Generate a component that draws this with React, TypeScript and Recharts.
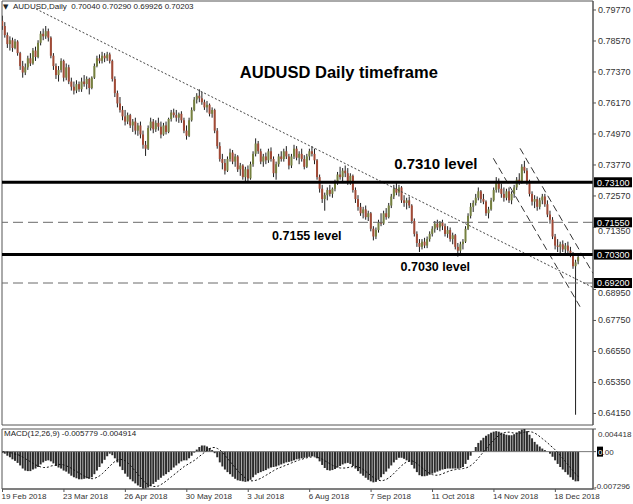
import React from 'react'
import {
  ComposedChart, Bar, Line, XAxis, YAxis,
  ReferenceLine, ReferenceArea, ReferenceDot,
} from 'recharts'

// daily candles as [open, high, low, close], in pips (price x 10000)
const febCandles = [
  [7935, 7955, 7900, 7915], [7915, 7930, 7870, 7880], [7880, 7890, 7830, 7845], [7845, 7875, 7820, 7860],
  [7860, 7870, 7815, 7830], [7830, 7865, 7825, 7855], [7855, 7860, 7800, 7810], [7810, 7815, 7745, 7760],
]
const marCandles = [
  [7760, 7780, 7715, 7735], [7735, 7770, 7725, 7755], [7755, 7800, 7745, 7790], [7790, 7810, 7760, 7770],
  [7770, 7830, 7765, 7820], [7820, 7835, 7780, 7795], [7795, 7860, 7790, 7850], [7850, 7895, 7840, 7885],
  [7885, 7905, 7860, 7875], [7875, 7915, 7865, 7895], [7895, 7905, 7855, 7870], [7870, 7875, 7790, 7800],
  [7800, 7810, 7745, 7760], [7760, 7770, 7710, 7725], [7725, 7760, 7700, 7745], [7745, 7790, 7735, 7780],
  [7780, 7785, 7700, 7715], [7715, 7770, 7705, 7755], [7755, 7765, 7690, 7700], [7700, 7715, 7665, 7680],
  [7680, 7700, 7650, 7665], [7665, 7705, 7655, 7690],
]
const aprCandles = [
  [7690, 7700, 7660, 7670], [7670, 7715, 7660, 7700], [7700, 7725, 7680, 7690], [7690, 7720, 7670, 7710],
  [7710, 7715, 7650, 7675], [7675, 7720, 7670, 7715], [7715, 7770, 7710, 7760], [7760, 7800, 7755, 7790],
  [7790, 7805, 7770, 7780], [7780, 7815, 7770, 7800], [7800, 7810, 7775, 7790], [7790, 7815, 7780, 7805],
  [7805, 7812, 7770, 7780], [7780, 7785, 7700, 7710], [7710, 7720, 7640, 7655], [7655, 7665, 7600, 7615],
  [7615, 7640, 7580, 7590], [7590, 7605, 7550, 7565], [7565, 7590, 7530, 7545], [7545, 7580, 7535, 7570],
  [7570, 7575, 7520, 7530],
]
const mayCandles = [
  [7530, 7555, 7505, 7545], [7545, 7560, 7495, 7510], [7510, 7540, 7490, 7530], [7530, 7545, 7480, 7495],
  [7495, 7510, 7440, 7455], [7455, 7470, 7412, 7440], [7440, 7530, 7435, 7520], [7520, 7560, 7510, 7545],
  [7545, 7555, 7500, 7515], [7515, 7550, 7505, 7540], [7540, 7560, 7510, 7525], [7525, 7545, 7480, 7495],
  [7495, 7540, 7490, 7530], [7530, 7545, 7495, 7505], [7505, 7560, 7500, 7555], [7555, 7590, 7545, 7580],
  [7580, 7595, 7560, 7570], [7570, 7590, 7545, 7560], [7560, 7580, 7540, 7575], [7575, 7585, 7540, 7550],
  [7550, 7560, 7500, 7510], [7510, 7530, 7475, 7490], [7490, 7560, 7485, 7550],
]
const junCandles = [
  [7550, 7600, 7545, 7590], [7590, 7640, 7585, 7630], [7630, 7655, 7615, 7645], [7645, 7670, 7620, 7635],
  [7635, 7660, 7610, 7620], [7620, 7630, 7590, 7600], [7600, 7625, 7580, 7610], [7610, 7615, 7565, 7575],
  [7575, 7600, 7560, 7590], [7590, 7595, 7500, 7510], [7510, 7520, 7440, 7450], [7450, 7465, 7390, 7400],
  [7400, 7420, 7360, 7385], [7385, 7400, 7340, 7355], [7355, 7410, 7350, 7400], [7400, 7440, 7390, 7425],
  [7425, 7435, 7380, 7390], [7390, 7420, 7370, 7410], [7410, 7415, 7350, 7360], [7360, 7385, 7335, 7375],
  [7375, 7380, 7320, 7330],
]
const julCandles = [
  [7330, 7370, 7315, 7360], [7360, 7375, 7310, 7325], [7325, 7390, 7320, 7380], [7380, 7430, 7370, 7420],
  [7420, 7480, 7410, 7460], [7460, 7470, 7420, 7430], [7430, 7440, 7380, 7390], [7390, 7420, 7370, 7410],
  [7410, 7425, 7380, 7395], [7395, 7440, 7385, 7430], [7430, 7445, 7390, 7400], [7400, 7410, 7330, 7345],
  [7345, 7390, 7320, 7380], [7380, 7420, 7370, 7410], [7410, 7430, 7390, 7400], [7400, 7440, 7390, 7430],
  [7430, 7450, 7400, 7410], [7410, 7420, 7360, 7375], [7375, 7420, 7365, 7410], [7410, 7455, 7400, 7440],
  [7440, 7450, 7395, 7405], [7405, 7430, 7380, 7420],
]
const augCandles = [
  [7420, 7440, 7390, 7400], [7400, 7415, 7360, 7370], [7370, 7420, 7365, 7410], [7410, 7440, 7395, 7430],
  [7430, 7450, 7410, 7420], [7420, 7440, 7380, 7395], [7395, 7400, 7320, 7330], [7330, 7340, 7270, 7285],
  [7285, 7300, 7230, 7245], [7245, 7270, 7200, 7260], [7260, 7290, 7240, 7280], [7280, 7300, 7255, 7265],
  [7265, 7290, 7250, 7285], [7285, 7320, 7275, 7310], [7310, 7350, 7300, 7340], [7340, 7370, 7320, 7330],
  [7330, 7365, 7310, 7355], [7355, 7375, 7330, 7345], [7345, 7365, 7300, 7310], [7310, 7345, 7300, 7335],
  [7335, 7340, 7270, 7280], [7280, 7290, 7230, 7245], [7245, 7260, 7200, 7215],
]
const sepCandles = [
  [7215, 7230, 7180, 7190], [7190, 7215, 7170, 7205], [7205, 7220, 7165, 7175], [7175, 7200, 7160, 7190],
  [7190, 7195, 7120, 7130], [7130, 7140, 7085, 7100], [7100, 7135, 7090, 7125], [7125, 7165, 7115, 7155],
  [7155, 7190, 7140, 7150], [7150, 7200, 7145, 7190], [7190, 7210, 7165, 7175], [7175, 7230, 7170, 7220],
  [7220, 7265, 7210, 7255], [7255, 7300, 7245, 7285], [7285, 7310, 7260, 7270], [7270, 7300, 7255, 7290],
  [7290, 7295, 7230, 7240], [7240, 7260, 7215, 7230], [7230, 7250, 7205, 7240], [7240, 7255, 7210, 7220],
]
const octCandles = [
  [7220, 7225, 7150, 7160], [7160, 7170, 7100, 7110], [7110, 7120, 7060, 7075], [7075, 7090, 7040, 7060],
  [7060, 7090, 7050, 7080], [7080, 7095, 7055, 7065], [7065, 7100, 7055, 7090], [7090, 7120, 7080, 7110],
  [7110, 7140, 7100, 7130], [7130, 7160, 7115, 7150], [7150, 7165, 7125, 7135], [7135, 7160, 7120, 7155],
  [7155, 7165, 7125, 7140], [7140, 7150, 7100, 7110], [7110, 7140, 7095, 7125], [7125, 7135, 7080, 7090],
  [7090, 7115, 7070, 7105], [7105, 7110, 7050, 7060], [7060, 7075, 7022, 7045], [7045, 7080, 7035, 7070],
  [7070, 7090, 7050, 7080], [7080, 7140, 7075, 7130], [7130, 7190, 7125, 7180],
]
const novCandles = [
  [7180, 7230, 7170, 7215], [7215, 7240, 7195, 7230], [7230, 7265, 7220, 7250], [7250, 7290, 7240, 7275],
  [7275, 7280, 7230, 7245], [7245, 7265, 7225, 7235], [7235, 7240, 7180, 7190], [7190, 7215, 7170, 7205],
  [7205, 7250, 7200, 7240], [7240, 7290, 7235, 7280], [7280, 7330, 7270, 7310], [7310, 7325, 7270, 7285],
  [7285, 7305, 7250, 7265], [7265, 7290, 7235, 7250], [7250, 7285, 7240, 7275], [7275, 7290, 7230, 7240],
  [7240, 7275, 7225, 7265], [7265, 7300, 7250, 7290], [7290, 7330, 7280, 7320], [7320, 7345, 7300, 7310],
  [7310, 7380, 7305, 7370], [7370, 7393, 7345, 7355],
]
const decCandles = [
  [7355, 7365, 7300, 7310], [7310, 7320, 7255, 7265], [7265, 7275, 7220, 7235], [7235, 7260, 7210, 7245],
  [7245, 7255, 7200, 7215], [7215, 7250, 7205, 7240], [7240, 7265, 7225, 7255], [7255, 7265, 7215, 7225],
  [7225, 7240, 7175, 7185], [7185, 7200, 7150, 7165], [7165, 7175, 7090, 7100], [7100, 7110, 7050, 7065],
  [7065, 7090, 7040, 7060], [7060, 7080, 7035, 7070], [7070, 7085, 7040, 7050], [7050, 7075, 7035, 7065],
  [7065, 7080, 7030, 7045], [7045, 7060, 7020, 7035], [7035, 7040, 6975, 6985], [6985, 7010, 6410, 7000],
  [7004, 7029, 6992.6, 7020.3],
]

// MACD(12,26,9) main line, in units of 0.0001
const macdFeb = [-2, -4, -8, -11, -15, -18, -22, -27]
const macdMar = [-33, -37, -38, -38, -35, -33, -30, -25, -21, -18, -17, -19, -23, -28, -31, -33, -37, -39, -43, -47, -50, -52]
const macdApr = [-54, -54, -53, -52, -53, -50, -44, -37, -30, -23, -16, -9, -4, -7, -13, -21, -29, -36, -43, -49, -54]
const macdMay = [-58, -62, -66, -69, -72.96, -72, -70, -67, -63, -59, -55, -51, -47, -44, -40, -36, -31, -27, -23, -19, -17, -17, -13]
const macdJun = [-8, -2, 4, 9, 12, 12, 10, 7, 3, -3, -11, -21, -29, -35, -40, -44, -49, -53, -56, -57, -58]
const macdJul = [-59, -58, -55, -50, -45, -42, -40, -38, -36, -33, -31, -30, -29, -27, -25, -23, -21, -20, -19, -17, -15, -14]
const macdAug = [-13, -12, -11, -10, -9, -9, -13, -19, -26, -32, -36, -37, -36, -34, -31, -28, -25, -23, -22, -24, -28, -33, -38]
const macdSep = [-43, -47, -51, -55, -58, -60, -59, -55, -50, -44, -39, -33, -27, -21, -16, -12, -12, -14, -17, -20]
const macdOct = [-26, -33, -40, -46, -48, -48, -47, -45, -43, -41, -39, -37, -35, -34, -33, -33, -33, -33, -33, -32, -30, -24, -16]
const macdNov = [-8, 1, 9, 17, 22, 27, 31, 34, 37, 39, 40, 39, 37, 35, 33, 32, 32, 34, 37, 40, 43, 44.18]
const macdDec = [40, 33, 26, 19, 14, 10, 6, 3, 0, -4, -10, -17, -24, -30, -35, -40, -45, -50, -55, -58, -57.79]

// MACD signal line, in units of 0.0001
const sigFeb = [0, -1, -1, -2, -3, -5, -6, -8]
const sigMar = [-11, -14, -17, -20, -23, -26, -28, -30, -31, -31, -30, -28, -27, -26, -25, -25, -26, -28, -30, -33, -36, -39]
const sigApr = [-42, -45, -48, -50, -52, -53, -52, -50, -47, -43, -38, -33, -28, -23, -19, -16, -15, -16, -18, -22, -27]
const sigMay = [-33, -39, -45, -51, -57, -61, -65, -67, -68, -68, -67, -64, -61, -57, -53, -49, -45, -41, -37, -33, -29, -26, -23]
const sigJun = [-20, -17, -13, -9, -5, -1, 3, 6, 8, 8, 6, 3, -2, -8, -14, -20, -26, -32, -38, -43, -48]
const sigJul = [-52, -55, -57, -57, -56, -54, -52, -49, -46, -43, -40, -37, -34, -32, -30, -28, -26, -24, -22, -20, -18, -16]
const sigAug = [-15, -13, -12, -11, -10, -10, -11, -13, -15, -18, -21, -24, -27, -29, -31, -32, -32, -32, -31, -30, -29, -29, -30]
const sigSep = [-32, -35, -39, -43, -47, -51, -54, -56, -57, -56, -54, -51, -47, -42, -37, -32, -27, -23, -20, -18]
const sigOct = [-18, -20, -24, -28, -32, -36, -40, -43, -45, -46, -46, -45, -43, -41, -39, -37, -36, -35, -34, -34, -33, -32, -30]
const sigNov = [-27, -23, -18, -12, -6, 0, 6, 12, 18, 23, 28, 32, 35, 37, 38, 38, 37, 36, 36, 36, 37, 38]
const sigDec = [39, 39, 38, 36, 33, 29, 25, 21, 17, 12, 8, 3, -2, -8, -14, -20, -26, -32, -38, -44, -49.14]

const dateTicks = [0, 24, 48, 72, 96, 120, 144, 168, 192, 216]
const dateLabels = [
  '19 Feb 2018', '23 Mar 2018', '26 Apr 2018', '30 May 2018', '3 Jul 2018',
  '6 Aug 2018', '7 Sep 2018', '11 Oct 2018', '14 Nov 2018', '18 Dec 2018',
]
const priceTicks = [0.7977, 0.7857, 0.7737, 0.7617, 0.7497, 0.7377, 0.7257, 0.7135, 0.6895, 0.6775, 0.6655, 0.6535, 0.6415]
const solidLevels = [0.731, 0.703]
const dashedLevels = [0.7155, 0.692]
const macdTicks = [0.004418, 0, -0.007296]

// hand-drawn lines: [[bar, price], [bar, price]]
const downTrend = [[13.1, 0.7981], [230.7, 0.69027]]
const channel = [
  [[191.75, 0.74029], [225.63, 0.68283]],
  [[202.18, 0.74416], [230.7, 0.69576]],
]

const candles = [
  ...febCandles, ...marCandles, ...aprCandles, ...mayCandles, ...junCandles, ...julCandles,
  ...augCandles, ...sepCandles, ...octCandles, ...novCandles, ...decCandles,
]
const macd = [
  ...macdFeb, ...macdMar, ...macdApr, ...macdMay, ...macdJun, ...macdJul,
  ...macdAug, ...macdSep, ...macdOct, ...macdNov, ...macdDec,
]
const signal = [
  ...sigFeb, ...sigMar, ...sigApr, ...sigMay, ...sigJun, ...sigJul,
  ...sigAug, ...sigSep, ...sigOct, ...sigNov, ...sigDec,
]

const rows = candles.map(([o, h, l, c], i) => ({
  i,
  o: o / 1e4, h: h / 1e4, l: l / 1e4, c: c / 1e4,
  range: [l / 1e4, h / 1e4],
  m: macd[i] / 1e4,
  s: signal[i] / 1e4,
}))
const last = rows[rows.length - 1]
const allLevels = [...solidLevels, ...dashedLevels]

const X_DOMAIN: [number, number] = [-0.2, 230.7]
const PRICE_DOMAIN: [number, number] = [0.63703, 0.80118]
const MACD_DOMAIN: [number, number] = [-0.007296, 0.004418]

const FONT = '"Liberation Sans", Arial, sans-serif'
const BULL = '#76813f'
const BEAR = '#a24a36'
const AXIS = '#555'

// text annotations placed at [bar, price]
const notes = [
  { i: 131.4, p: 0.7737, text: 'AUDUSD Daily timeframe', size: 16.5 },
  { i: 169.3, p: 0.7381, text: '0.7310 level', size: 15 },
  { i: 118.9, p: 0.7102, text: '0.7155 level', size: 12.5 },
  { i: 169.1, p: 0.6982, text: '0.7030 level', size: 12.5 },
]

function Candle(props: any) {
  const { x, y, width, height, payload } = props
  const { o, h, l, c } = payload
  const top = Math.min(y, y + height)
  const span = Math.abs(height)
  const py = (p: number) => top + ((h - p) / (h - l)) * span
  const cx = x + width / 2
  const bTop = py(Math.max(o, c))
  const bBot = py(Math.min(o, c))
  return (
    <g>
      <line x1={cx} x2={cx} y1={top} y2={top + span} stroke="#1e1e1e" strokeWidth={1} />
      <rect x={cx - 1} y={bTop} width={2} height={Math.max(bBot - bTop, 1)}
        fill={c >= o ? BULL : BEAR} />
    </g>
  )
}

function PriceTick(props: any) {
  const { x, y, payload } = props
  const v = payload.value
  // a label sitting just under a level tag peeks out below it
  const tucked = allLevels.some((lv) => lv - v > 0 && lv - v < 0.003)
  return (
    <text x={x} y={y} dy={tucked ? 7 : 3} fontSize={9} fontFamily={FONT} fill="#333" textAnchor="start">
      {v.toFixed(5)}
    </text>
  )
}

function MacdTick(props: any) {
  const { x, y, payload } = props
  const v = payload.value
  if (v === 0) {
    return (
      <g>
        <rect x={x - 1} y={y - 5} width={6} height={10} fill="#000" />
        <text x={x} y={y} dy={3} fontSize={8} fontFamily={FONT} fill="#333" textAnchor="start">
          <tspan fill="#fff">0</tspan>.00
        </text>
      </g>
    )
  }
  if (v > 0) {
    return (
      <text x={x} y={y} dy={8} fontSize={8} fontFamily={FONT} fill="#333" textAnchor="start">
        {v.toFixed(6)}
      </text>
    )
  }
  return (
    <text x={x - 4} y={y} dy={0} fontSize={8} fontFamily={FONT} fill="#333" textAnchor="start">
      {v.toFixed(6)}
    </text>
  )
}

function DateTick(props: any) {
  const { x, y, payload } = props
  const k = dateTicks.indexOf(payload.value)
  return (
    <text x={x - 1} y={y + 5} fontSize={8} fontFamily={FONT} fill="#333" textAnchor="start">
      {dateLabels[k]}
    </text>
  )
}

function levelTag(level: number) {
  return (p: any) => {
    const { x, y, width } = p.viewBox
    return (
      <g>
        <rect x={x + width + 1} y={y - 5} width={38} height={10} fill="#000" />
        <text x={x + width + 4} y={y + 3.3} fontSize={9} fontFamily={FONT} fill="#fff">
          {level.toFixed(5)}
        </text>
      </g>
    )
  }
}

function noteLabel(text: string, size: number) {
  return (p: any) => {
    const { x, y, width, height } = p.viewBox
    return (
      <text x={x + width / 2} y={y + height / 2} textAnchor="middle" dominantBaseline="central"
        fontSize={size} fontWeight="bold" fontFamily={FONT} fill="#000">
        {text}
      </text>
    )
  }
}

const small: React.CSSProperties = {
  position: 'absolute', fontSize: 8, lineHeight: '8px', fontFamily: FONT, color: '#222', whiteSpace: 'pre',
}

export default function App() {
  return (
    <div style={{ position: 'absolute', left: 0, top: 0, width: 633, height: 504, background: '#fff', overflow: 'hidden' }}>
      <ComposedChart width={633} height={426} data={rows} margin={{ top: 1, right: 0, bottom: 1, left: 2 }}>
        <XAxis dataKey="i" type="number" domain={X_DOMAIN} allowDataOverflow hide />
        <YAxis orientation="right" width={40} domain={PRICE_DOMAIN} allowDataOverflow
          ticks={priceTicks} interval={0} tickSize={3} tickMargin={2}
          axisLine={{ stroke: AXIS }} tickLine={{ stroke: AXIS }} tick={PriceTick} />
        <ReferenceArea x1={X_DOMAIN[0]} x2={X_DOMAIN[1]} y1={PRICE_DOMAIN[0]} y2={PRICE_DOMAIN[1]}
          fill="none" stroke={AXIS} fillOpacity={0} />
        <Bar dataKey="range" barSize={2} isAnimationActive={false} shape={(p: any) => <Candle {...p} />} />
        {dashedLevels.map((lv) => (
          <ReferenceLine key={lv} y={lv} stroke="#6a6a6a" strokeDasharray="10 5" label={levelTag(lv)} />
        ))}
        <ReferenceLine
          segment={downTrend.map(([x, y]) => ({ x, y }))}
          stroke="#444" strokeDasharray="2 2" ifOverflow="visible" />
        {channel.map((seg, k) => (
          <ReferenceLine key={k} segment={seg.map(([x, y]) => ({ x, y }))}
            stroke="#333" strokeDasharray="7 4" ifOverflow="visible" />
        ))}
        {solidLevels.map((lv) => (
          <ReferenceLine key={lv} y={lv} stroke="#000" strokeWidth={3} label={levelTag(lv)} />
        ))}
        {notes.map((n) => (
          <ReferenceDot key={n.text} x={n.i} y={n.p} r={0} fill="none" stroke="none"
            label={noteLabel(n.text, n.size)} />
        ))}
      </ComposedChart>

      <div style={{ position: 'absolute', top: 427, left: 0 }}>
        <ComposedChart width={633} height={77} data={rows} margin={{ top: 2, right: 0, bottom: 0, left: 2 }}>
          <XAxis dataKey="i" type="number" domain={X_DOMAIN} allowDataOverflow ticks={dateTicks}
            interval={0} height={15} tickSize={3} tickMargin={2}
            axisLine={{ stroke: AXIS }} tickLine={{ stroke: AXIS }} tick={DateTick} />
          <YAxis orientation="right" width={40} domain={MACD_DOMAIN} allowDataOverflow
            ticks={macdTicks} interval={0} tickSize={3} tickMargin={2}
            axisLine={{ stroke: AXIS }} tickLine={{ stroke: AXIS }} tick={MacdTick} />
          <ReferenceArea x1={X_DOMAIN[0]} x2={X_DOMAIN[1]} y1={MACD_DOMAIN[0]} y2={MACD_DOMAIN[1]}
            fill="none" stroke={AXIS} fillOpacity={0} />
          <ReferenceLine y={0} stroke="#777" />
          <Bar dataKey="m" barSize={2} fill="#2c2c2c" isAnimationActive={false} />
          <Line dataKey="s" type="linear" stroke="#111" strokeWidth={1} strokeDasharray="2 2"
            dot={false} isAnimationActive={false} />
        </ComposedChart>
      </div>

      <span style={{ ...small, left: 3, top: 3, fontSize: 7, fontFamily: '"DejaVu Sans", sans-serif' }}>▼</span>
      <span style={{ ...small, left: 13, top: 3 }}>
        {`AUDUSD,Daily  ${last.o.toFixed(5)} ${last.h.toFixed(5)} ${last.l.toFixed(5)} ${last.c.toFixed(5)}`}
      </span>
      <span style={{ ...small, left: 4, top: 430 }}>
        {`MACD(12,26,9) ${last.m.toFixed(6)} ${last.s.toFixed(6)}`}
      </span>
    </div>
  )
}
